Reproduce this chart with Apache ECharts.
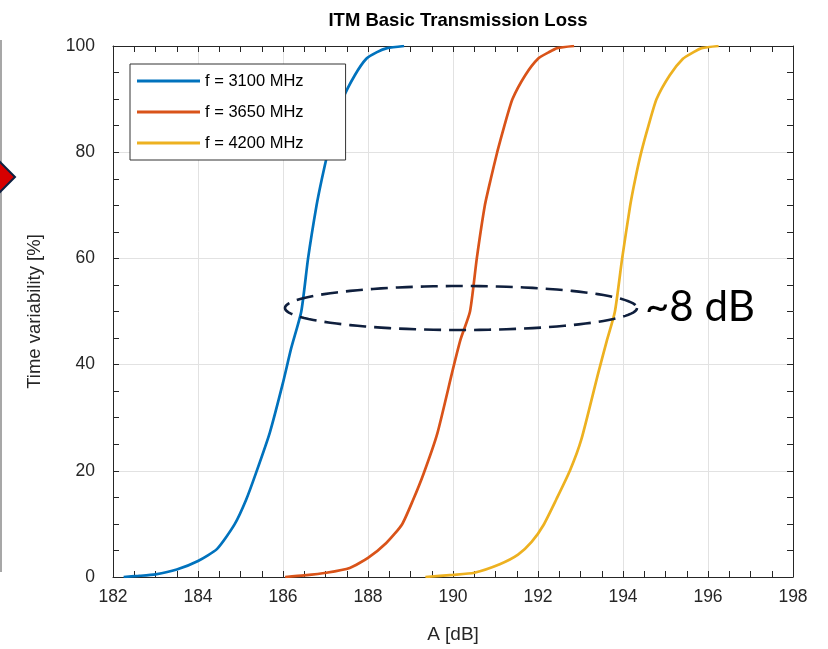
<!DOCTYPE html>
<html>
<head>
<meta charset="utf-8">
<script src="https://cdn.jsdelivr.net/npm/echarts@6/dist/echarts.min.js"></script>
<style>
html,body{margin:0;padding:0;background:#fff;}
#chart{width:828px;height:649px;}
</style>
</head>
<body>
<div id="chart"></div>
<script>
// ---- data ----
var seriesNames = ['f = 3100 MHz', 'f = 3650 MHz', 'f = 4200 MHz'];
var xTicks = [182, 184, 186, 188, 190, 192, 194, 196, 198];
var yTicks = [0, 20, 40, 60, 80, 100];

var blueA = [182.25, 182.6, 183.0, 183.5, 184.0, 184.45, 184.86, 185.13, 185.37, 185.69, 186.0, 186.19, 186.43, 186.59, 186.79, 186.915, 187.055, 187.215, 187.405, 187.69, 187.96, 188.2, 188.45, 188.85];
var blueT = [0, 0.2, 0.5, 1.4, 3.0, 5.3, 9.9, 14.5, 19.7, 27.2, 36.6, 43, 50, 60, 70, 75, 80, 85, 90, 94.5, 97.6, 98.8, 99.6, 100];

var orangeA = [186.05, 186.5, 187.02, 187.57, 188.0, 188.43, 188.8, 189.06, 189.31, 189.63, 190.0, 190.18, 190.40, 190.56, 190.75, 190.89, 191.04, 191.21, 191.40, 191.7, 192.0, 192.25, 192.45, 192.85];
var orangeT = [0, 0.3, 0.8, 1.7, 3.6, 6.4, 9.9, 14.5, 19.5, 27.0, 39.2, 44.8, 50, 60, 70, 75, 80, 85, 90, 94.5, 97.6, 98.8, 99.6, 100];

var yellowA = [189.35, 190.0, 190.5, 191.1, 191.53, 191.85, 192.13, 192.43, 192.75, 193.02, 193.42, 193.62, 193.81, 193.98, 194.17, 194.29, 194.43, 194.6, 194.79, 195.1, 195.41, 195.65, 195.85, 196.25];
var yellowT = [0, 0.4, 0.8, 2.4, 4.2, 6.6, 9.8, 14.6, 20.0, 25.9, 38.5, 44.5, 50, 60, 70, 75, 80, 85, 90, 94.5, 97.6, 98.8, 99.6, 100];

var colors = ['#0072BD', '#D95319', '#EDB120'];

function pairs(a, t) { return a.map(function (v, i) { return [v, t[i]]; }); }

var chart = echarts.init(document.getElementById('chart'), null, {renderer: 'canvas'});
var FONT = 'Liberation Sans, Arial, Helvetica, sans-serif';
var AX = '#262626';
var GRIDC = '#e2e2e2';

// ellipse annotation points (pixel space)
var ell = [];
(function () {
  var cx = 461, cy = 308, rx = 176, ry = 22;
  for (var i = 0; i < 120; i++) {
    var a = i / 120 * Math.PI * 2;
    ell.push([cx + rx * Math.cos(a), cy + ry * Math.sin(a)]);
  }
})();

function xAx(pos, main) {
  return {
    type: 'value', position: pos, min: xTicks[0], max: xTicks[xTicks.length - 1], interval: 2,
    axisLine: {show: true, onZero: false, lineStyle: {color: AX, width: 1}},
    axisTick: {show: true, inside: true, length: 6, lineStyle: {color: AX}},
    minorTick: {show: true, splitNumber: 4, length: 6, lineStyle: {color: AX}},
    splitLine: {show: main, lineStyle: {color: GRIDC, width: 1}},
    axisLabel: {show: main, fontSize: 17.5, color: AX, fontFamily: FONT, margin: 11},
    name: main ? 'A [dB]' : '', nameLocation: 'middle', nameGap: 48,
    nameTextStyle: {fontSize: 19, color: AX, fontFamily: FONT}
  };
}
function yAx(pos, main) {
  return {
    type: 'value', position: pos, min: yTicks[0], max: yTicks[yTicks.length - 1], interval: 20,
    axisLine: {show: true, onZero: false, lineStyle: {color: AX, width: 1}},
    axisTick: {show: true, inside: true, length: 6, lineStyle: {color: AX}},
    minorTick: {show: true, splitNumber: 4, length: 6, lineStyle: {color: AX}},
    splitLine: {show: main, lineStyle: {color: GRIDC, width: 1}},
    axisLabel: {show: main, fontSize: 17.5, color: AX, fontFamily: FONT, margin: 18},
    name: main ? 'Time variability [%]' : '', nameLocation: 'middle', nameGap: 69,
    nameTextStyle: {fontSize: 18.5, color: AX, fontFamily: FONT}
  };
}

var data = [pairs(blueA, blueT), pairs(orangeA, orangeT), pairs(yellowA, yellowT)];

var option = {
  animation: false,
  backgroundColor: '#fff',
  title: {
    text: 'ITM Basic Transmission Loss', left: 453, textAlign: 'center', top: 6,
    textStyle: {fontSize: 18.5, fontWeight: 'bold', color: '#000', fontFamily: FONT}
  },
  grid: {left: 113, top: 46, width: 680, height: 531.5, containLabel: false},
  xAxis: [xAx('bottom', true), xAx('top', false)],
  yAxis: [yAx('left', true), yAx('right', false)],
  legend: {
    orient: 'vertical', left: 130, top: 64, z: 10,
    padding: [7, 42, 7, 7], itemGap: 11,
    itemWidth: 63, itemHeight: 3, icon: 'rect',
    backgroundColor: '#fff', borderColor: '#333', borderWidth: 1,
    textStyle: {fontSize: 16.5, color: '#000', fontFamily: FONT, lineHeight: 20},
    data: seriesNames
  },
  series: seriesNames.map(function (n, i) {
    return {
      name: n, type: 'line', xAxisIndex: 0, yAxisIndex: 0,
      data: data[i], symbol: 'none', smooth: 0.2,
      lineStyle: {color: colors[i], width: 2.7}, itemStyle: {color: colors[i]}, z: 3
    };
  }),
  graphic: [
    {type: 'polygon', z: 20, shape: {points: ell},
     style: {fill: 'none', stroke: '#0f1f3d', lineWidth: 2.6, lineDash: [17, 8]}},
    {type: 'text', z: 20, x: 645, y: 307,
     style: {text: '~8 dB', font: '42px Lato, "Open Sans", sans-serif', fill: '#000', textVerticalAlign: 'middle'}},
    {type: 'line', z: 5, shape: {x1: 1, y1: 40, x2: 1, y2: 572}, style: {stroke: '#8a8a8a', lineWidth: 1.5}},
    {type: 'polygon', z: 6, shape: {points: [[-3, 159], [15, 177], [-3, 195], [-21, 177]]},
     style: {fill: '#d60000', stroke: '#0e2040', lineWidth: 2}}
  ]
};
chart.setOption(option);
</script>
</body>
</html>
